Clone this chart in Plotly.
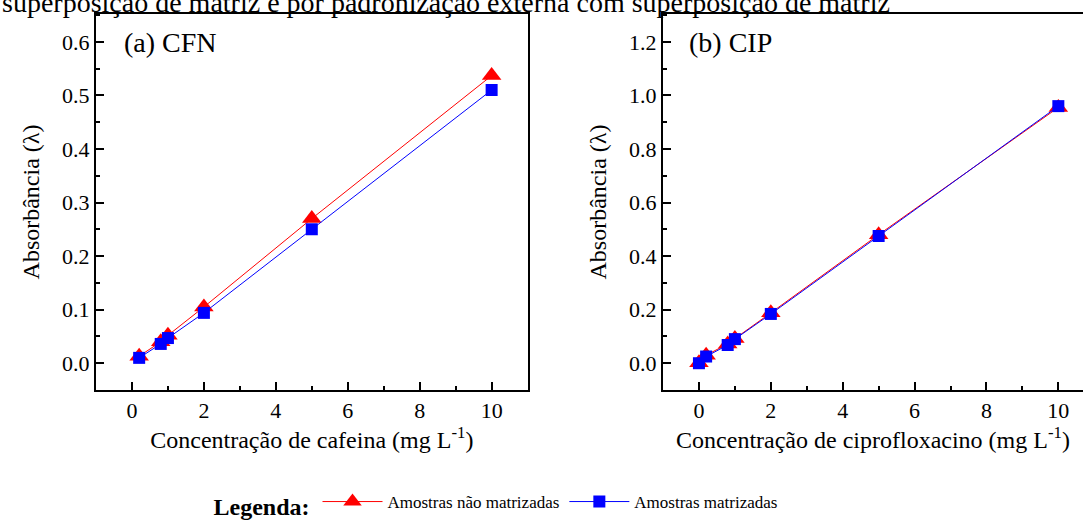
import plotly.graph_objects as go

# CFN (caffeine) data
cfn_x = [0.2, 0.8, 1.0, 2.0, 5.0, 10.0]
cfn_nao = [0.013, 0.040, 0.052, 0.105, 0.270, 0.537]
cfn_mat = [0.010, 0.036, 0.047, 0.094, 0.250, 0.510]

# CIP (ciprofloxacin) data
cip_x = [0.0, 0.2, 0.8, 1.0, 2.0, 5.0, 10.0]
cip_nao = [0.002, 0.030, 0.072, 0.092, 0.188, 0.480, 0.955]
cip_mat = [0.000, 0.025, 0.068, 0.090, 0.184, 0.475, 0.960]

x_ticks = [0, 2, 4, 6, 8, 10]
y_ticks_a = [0.0, 0.1, 0.2, 0.3, 0.4, 0.5, 0.6]
y_ticks_b = [0.0, 0.2, 0.4, 0.6, 0.8, 1.0, 1.2]

RED = "#ff0000"
BLUE = "#0000ff"
FONT = "Liberation Serif"

W, H = 1083, 526

fig = go.Figure()

def add_pair(x, yr, yb, xa, ya, show):
    fig.add_trace(go.Scatter(x=x, y=yr, mode="lines+markers", name="Amostras não matrizadas",
                             line=dict(color=RED, width=1),
                             marker=dict(symbol="triangle-up", size=17, color=RED),
                             xaxis=xa, yaxis=ya, showlegend=show, legendgroup="r"))
    fig.add_trace(go.Scatter(x=x, y=yb, mode="lines+markers", name="Amostras matrizadas",
                             line=dict(color=BLUE, width=1),
                             marker=dict(symbol="square", size=12, color=BLUE),
                             xaxis=xa, yaxis=ya, showlegend=show, legendgroup="b"))

add_pair(cfn_x, cfn_nao, cfn_mat, "x", "y", True)
add_pair(cip_x, cip_nao, cip_mat, "x2", "y2", False)

ydom = [1 - 390 / H, 1 - 14 / H]
axis_common = dict(
    showline=True, linecolor="black", linewidth=2, ticks="inside", ticklen=8, tickwidth=2,
    tickcolor="black", showgrid=False, zeroline=False,
    tickfont=dict(family=FONT, size=22, color="black"),
)
minor_x = dict(dtick=1, ticks="inside", ticklen=4, tickwidth=2, tickcolor="black")
TITLE_FONT = dict(family=FONT, size=24, color="black")

fig.update_layout(
    width=W, height=H, margin=dict(l=0, r=0, t=0, b=0),
    paper_bgcolor="white", plot_bgcolor="white",
    font=dict(family=FONT, color="black"),
    xaxis=dict(domain=[96 / W, 527.6 / W], range=[-1, 11], tickvals=x_ticks, mirror=True,
               minor=minor_x,
               title=dict(text="Concentração de cafeina (mg L<sup>-1</sup>)", font=TITLE_FONT, standoff=5),
               anchor="y", **axis_common),
    yaxis=dict(domain=ydom, range=[-0.05, 0.652], tickvals=y_ticks_a, tickformat=".1f", mirror=True,
               minor=dict(dtick=0.05, tick0=0, ticks="inside", ticklen=4, tickwidth=2, tickcolor="black"),
               title=dict(text="Absorbância (λ)", font=TITLE_FONT, standoff=16),
               anchor="x", **axis_common),
    xaxis2=dict(domain=[663 / W, 1.0], range=[-1, (1083 - 698.3) / 36.0], tickvals=x_ticks, mirror=True,
                minor=minor_x,
                title=dict(text="Concentração de ciprofloxacino (mg L<sup>-1</sup>)", font=TITLE_FONT, standoff=5),
                anchor="y2", **axis_common),
    yaxis2=dict(domain=ydom, range=[-0.1, 1.304], tickvals=y_ticks_b, tickformat=".1f", mirror=False,
                minor=dict(dtick=0.1, tick0=0, ticks="inside", ticklen=4, tickwidth=2, tickcolor="black"),
                title=dict(text="Absorbância (λ)", font=TITLE_FONT, standoff=16),
                anchor="x2", **axis_common),
    legend=dict(orientation="h", x=497 / W, xanchor="center", y=1 - 505 / H, yanchor="middle",
                title=dict(text="<b>Legenda:</b>", font=dict(family=FONT, size=24)),
                font=dict(family=FONT, size=17), itemwidth=60, bgcolor="rgba(0,0,0,0)"),
    annotations=[
        dict(text="(a) CFN", x=122 / W, y=1 - 42 / H, xref="paper", yref="paper",
             xanchor="left", yanchor="middle", showarrow=False, font=dict(family=FONT, size=28)),
        dict(text="(b) CIP", x=687 / W, y=1 - 42 / H, xref="paper", yref="paper",
             xanchor="left", yanchor="middle", showarrow=False, font=dict(family=FONT, size=28)),
        dict(text="superposição de matriz e por padronização externa com superposição de matriz",
             x=0, y=1.0, xref="paper", yref="paper", xanchor="left", yanchor="middle",
             yshift=-2, showarrow=False, font=dict(family=FONT, size=28)),
    ],
)

fig.write_html("out.html", config={"displayModeBar": False},
               post_script="document.body.style.margin='0';document.body.style.overflow='hidden';")
